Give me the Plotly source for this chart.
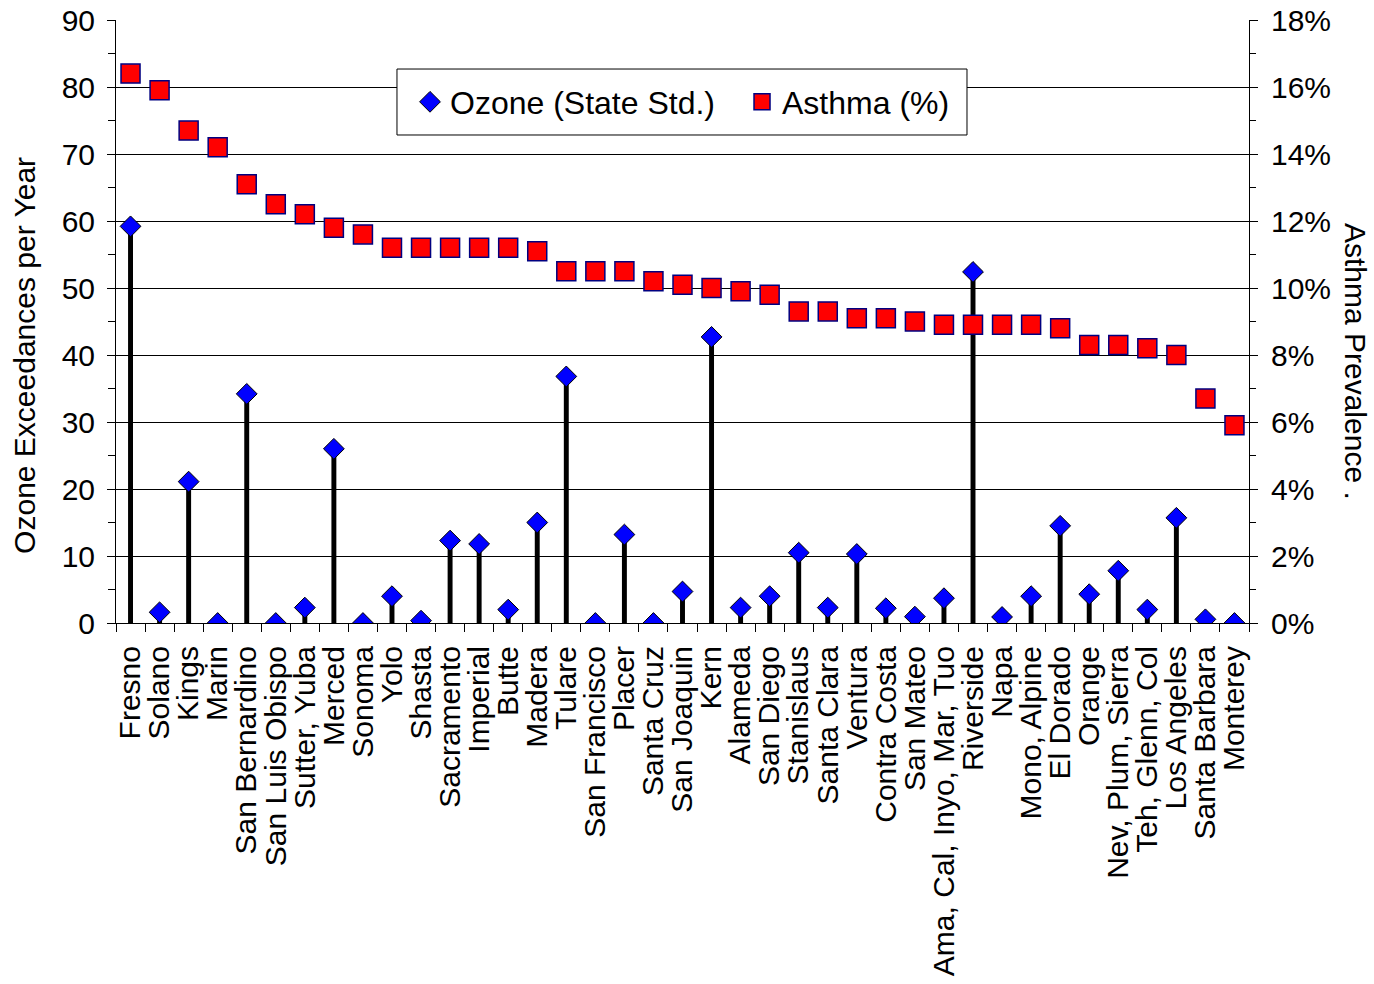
import plotly.graph_objects as go

counties = ["Fresno", "Solano", "Kings", "Marin", "San Bernardino", "San Luis Obispo",
            "Sutter, Yuba", "Merced", "Sonoma", "Yolo", "Shasta", "Sacramento", "Imperial",
            "Butte", "Madera", "Tulare", "San Francisco", "Placer", "Santa Cruz",
            "San Joaquin", "Kern", "Alameda", "San Diego", "Stanislaus", "Santa Clara",
            "Ventura", "Contra Costa", "San Mateo", "Ama, Cal, Inyo, Mar, Tuo", "Riverside",
            "Napa", "Mono, Alpine", "El Dorado", "Orange", "Nev, Plum, Sierra",
            "Teh, Glenn, Col", "Los Angeles", "Santa Barbara", "Monterey"]

ozone_exceedances = [59.2, 1.6, 21.1, 0, 34.2, 0, 2.3, 26.0, 0, 4.0, 0.35, 12.3, 11.8,
                     2.0, 15.0, 36.8, 0, 13.2, 0, 4.7, 42.7, 2.3, 4.0, 10.5, 2.3,
                     10.3, 2.2, 0.95, 3.7, 52.4, 0.9, 4.0, 14.5, 4.3, 7.8, 2.0, 15.7, 0.55, 0]

asthma_pct = [16.4, 15.9, 14.7, 14.2, 13.1, 12.5, 12.2, 11.8, 11.6, 11.2, 11.2, 11.2, 11.2,
              11.2, 11.1, 10.5, 10.5, 10.5, 10.2, 10.1, 10.0, 9.9, 9.8, 9.3, 9.3,
              9.1, 9.1, 9.0, 8.9, 8.9, 8.9, 8.9, 8.8, 8.3, 8.3, 8.2, 8.0, 6.7, 5.9]

asthma_frac = [v / 100 for v in asthma_pct]

FONT = "Arial, 'Liberation Sans', sans-serif"
FS = 30
LFS = 32

fig = go.Figure()

fig.add_trace(go.Bar(
    x=counties, y=ozone_exceedances, width=0.17,
    marker=dict(color="black", line=dict(width=0)),
    showlegend=False, hoverinfo="skip", yaxis="y"))

fig.add_trace(go.Scatter(
    x=counties, y=ozone_exceedances, mode="markers", name="Ozone (State Std.)",
    legendwidth=287,
    marker=dict(symbol="diamond", size=16, color="#0000FF",
                line=dict(color="black", width=1)),
    yaxis="y"))

fig.add_trace(go.Scatter(
    x=counties, y=asthma_frac, mode="markers", name="Asthma (%)",
    marker=dict(symbol="square", size=19, color="#FF0000",
                line=dict(color="#000080", width=1.5)),
    yaxis="y2"))

fig.update_layout(
    width=1374, height=984,
    margin=dict(l=116, r=125, t=20, b=361),
    paper_bgcolor="white", plot_bgcolor="white",
    font=dict(family=FONT, size=FS, color="black"),
    showlegend=True,
    legend=dict(orientation="h", x=0.2595, y=0.864, xanchor="left", yanchor="middle",
                bgcolor="rgba(0,0,0,0)", borderwidth=0,
                font=dict(size=LFS), itemsizing="trace"),
    xaxis=dict(type="category", range=[-0.5, len(counties) - 0.5],
               tickson="boundaries", ticks="outside", ticklen=8, tickcolor="black",
               tickangle=-90, dtick=1, showline=True, linecolor="black", linewidth=1,
               showgrid=False, zeroline=False, automargin=False, ticklabelstandoff=10,
               tickfont=dict(size=FS)),
    yaxis=dict(range=[0, 90], dtick=10, showgrid=True, gridcolor="black", gridwidth=1,
               ticks="outside", ticklen=8, tickcolor="black",
               minor=dict(dtick=5, ticks="outside", ticklen=7, tickcolor="black", showgrid=False),
               showline=True, linecolor="black", linewidth=1, zeroline=False,
               automargin=False, ticklabelstandoff=6, tickfont=dict(size=FS)),
    yaxis2=dict(range=[0, 0.18], dtick=0.02, tickformat=".0%", overlaying="y", side="right",
                showgrid=False, ticks="outside", ticklen=8, tickcolor="black",
                minor=dict(dtick=0.01, ticks="outside", ticklen=6, tickcolor="black", showgrid=False),
                showline=True, linecolor="black", linewidth=1, zeroline=False,
                automargin=False, ticklabelstandoff=7, tickfont=dict(size=FS)),
    shapes=[
        dict(type="rect", xref="paper", yref="paper", x0=0.2480, x1=0.7511,
             y0=0.8093, y1=0.9187, fillcolor="white", line=dict(color="black", width=1),
             layer="above"),
    ],
    annotations=[
        dict(text="Ozone Exceedances per Year", xref="paper", yref="paper",
             x=-0.0803, y=0.443, textangle=-90, showarrow=False,
             xanchor="center", yanchor="middle", font=dict(size=FS)),
        dict(text="Asthma Prevalence .", xref="paper", yref="paper",
             x=1.0936, y=0.4345, textangle=90, showarrow=False,
             xanchor="center", yanchor="middle", font=dict(size=FS)),
    ],
)

fig.write_html("out.html", config={"displayModeBar": False},
               post_script="document.body.style.margin='0';document.body.style.overflow='hidden';")
